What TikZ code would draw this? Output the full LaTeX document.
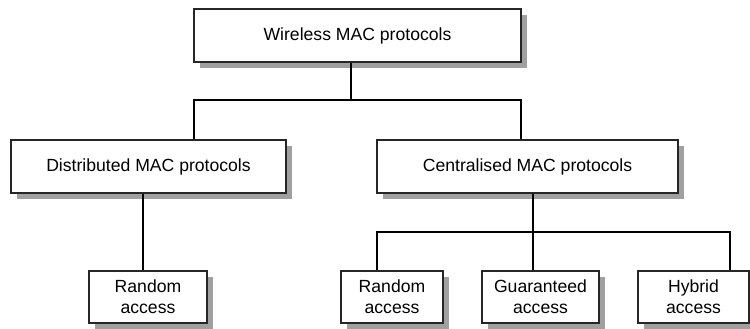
\documentclass[tikz,border=0pt]{standalone}
\usepackage{fontspec}
\setmainfont{Liberation Sans}
\usetikzlibrary{shadows}
\definecolor{shadowgray}{HTML}{A0A0A0}
\definecolor{boxline}{HTML}{262626}
\tikzset{
  box/.style={draw=boxline, line width=1.6pt, fill=white, minimum height=53pt,
    inner sep=0pt, align=center, anchor=center,
    font=\fontsize{17.6pt}{21pt}\selectfont,
    general shadow={shadow xshift=6pt, shadow yshift=-6pt, fill=shadowgray}},
  conn/.style={draw=black, line width=1.3pt}
}
\begin{document}
\begin{tikzpicture}[x=1pt,y=-1pt]
\useasboundingbox (0,0) rectangle (750,329);
\node[box, minimum width=327pt] (top) at (357.5,35.5) {Wireless MAC protocols};
\node[box, minimum width=275pt] (dist) at (148.5,166.5) {Distributed MAC protocols};
\node[box, minimum width=301pt] (cent) at (527.5,166.5) {Centralised MAC protocols};
\node[box, minimum width=118pt, minimum height=52pt] (r1) at (148,297) {Random\\access};
\node[box, minimum width=102pt, minimum height=52pt] (r2) at (392,297) {Random\\access};
\node[box, minimum width=117pt, minimum height=52pt] (g) at (540.5,297) {Guaranteed\\access};
\node[box, minimum width=111pt, minimum height=52pt] (h) at (693.5,297) {Hybrid\\access};
\coordinate (j1) at (351,100);
\coordinate (jl) at (194,100);
\coordinate (jr) at (521,100);
\coordinate (d1) at (143,230);
\coordinate (c1) at (533,232);
\coordinate (cl) at (377,232);
\coordinate (cr) at (730,232);
\draw[conn] (top.south -| j1) -- (j1);
\draw[conn] (dist.north -| jl) |- (jr) -- (cent.north -| jr);
\draw[conn] (dist.south -| d1) -- (r1.north -| d1);
\draw[conn] (cent.south -| c1) -- (g.north -| c1);
\draw[conn] (r2.north -| cl) |- (cr) -- (h.north -| cr);
\end{tikzpicture}
\end{document}
